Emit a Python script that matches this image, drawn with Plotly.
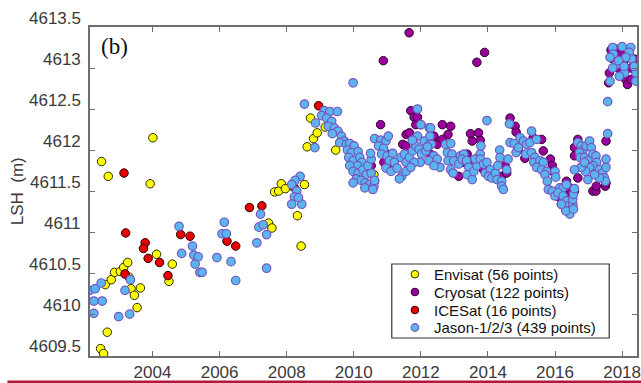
import plotly.graph_objects as go

# ---------------- data (decimal year, lake surface height in m) ----------------
envisat_year = [2002.45, 2002.54, 2002.65, 2002.59, 2002.77, 2002.87, 2003.04, 2003.14, 2003.26, 2003.36,
                2003.46, 2003.64, 2003.54, 2004.12, 2004.59, 2004.49, 2004.01, 2002.48, 2002.68, 2003.93,
                2007.46, 2007.56, 2007.64, 2007.76, 2007.84, 2007.96, 2008.32, 2008.43, 2008.53, 2008.61,
                2008.71, 2008.80, 2008.91, 2009.46, 2010.34, 2009.15, 2009.60, 2010.45, 2010.60, 2003.30]
envisat_lsh = [4609.58, 4609.52, 4609.78, 4610.36, 4610.42, 4610.51, 4610.52, 4610.57, 4610.63, 4610.31,
               4610.23, 4610.32, 4610.08, 4610.73, 4610.61, 4610.40, 4612.15, 4611.86, 4611.68, 4611.59,
               4611.11, 4611.05, 4611.49, 4611.50, 4611.59, 4611.53, 4611.20, 4610.83, 4611.58, 4612.04,
               4612.39, 4612.14, 4612.21, 4612.00, 4611.75, 4612.28, 4612.10, 4611.62, 4611.70, 4610.45]

cryosat_year = [2010.80, 2010.88, 2011.65, 2013.67, 2013.90, 2011.70, 2011.80, 2011.56, 2011.46, 2011.66,
                2011.85, 2011.55, 2012.00, 2010.52, 2010.62, 2010.90, 2011.20, 2011.00, 2011.90, 2012.39,
                2012.49, 2012.29, 2012.64, 2012.89, 2012.81, 2012.64, 2013.13, 2013.08, 2013.28, 2013.38,
                2013.48, 2013.72, 2013.77, 2013.53, 2013.58, 2013.87, 2014.17, 2014.41, 2014.51, 2014.56,
                2014.66, 2014.81, 2014.84, 2015.35, 2015.60, 2015.65, 2015.86, 2015.92, 2015.94, 2016.14,
                2016.19, 2016.29, 2016.34, 2016.34, 2016.44, 2016.46, 2016.53, 2016.58, 2016.68, 2016.58,
                2016.68, 2016.58, 2017.13, 2017.22, 2017.23, 2017.50, 2017.52, 2017.52, 2017.67, 2017.82,
                2017.72, 2017.97, 2018.06, 2017.62, 2017.60, 2018.11, 2018.16, 2017.87, 2018.26, 2018.36,
                2018.26, 2015.10, 2014.90]
cryosat_lsh = [4612.31, 4613.09, 4613.43, 4613.07, 4613.19, 4612.48, 4612.40, 4612.19, 4612.07, 4612.21,
               4612.31, 4612.05, 4612.31, 4611.81, 4611.62, 4611.85, 4611.78, 4611.95, 4612.40, 4612.17,
               4612.07, 4611.95, 4612.31, 4612.29, 4612.19, 4612.13, 4611.68, 4611.89, 4611.85, 4611.95,
               4612.20, 4612.21, 4612.12, 4612.11, 4611.83, 4611.76, 4611.70, 4611.68, 4611.81, 4611.72,
               4612.39, 4612.29, 4612.22, 4612.15, 4612.13, 4611.99, 4611.89, 4611.81, 4611.74, 4611.42,
               4611.34, 4611.42, 4611.62, 4611.46, 4611.54, 4611.50, 4611.30, 4611.50, 4611.66, 4612.03,
               4612.13, 4611.93, 4611.50, 4611.50, 4611.56, 4611.56, 4612.11, 4611.60, 4613.22, 4613.23,
               4613.11, 4613.17, 4613.09, 4612.94, 4612.82, 4612.86, 4612.80, 4613.00, 4613.00, 4613.11,
               4612.86, 4611.90, 4612.00]

icesat_year = [2003.20, 2003.78, 2003.73, 2003.87, 2004.21, 2004.84, 2005.12, 2004.46, 2003.18, 2006.22,
               2006.48, 2006.89, 2007.26, 2003.15, 2008.23, 2008.95]
icesat_lsh = [4610.99, 4610.87, 4610.80, 4610.68, 4610.63, 4610.97, 4610.95, 4610.47, 4610.49, 4610.89,
              4610.83, 4611.30, 4611.32, 4611.72, 4611.54, 4612.54]

jason_year = [
    2002.13, 2002.29, 2002.47, 2002.25, 2002.50, 2002.25, 2002.99, 2003.32, 2003.18, 2003.34,
    2004.79, 2004.87, 2005.19, 2005.23, 2005.36, 2005.27, 2005.41, 2005.48, 2005.92, 2006.14,
    2006.07, 2006.20, 2006.34, 2006.48, 2007.11, 2007.22, 2007.17, 2007.30, 2007.40, 2007.40,
    2008.40, 2008.25, 2008.15, 2008.30, 2008.23, 2008.15, 2008.45, 2008.35, 2008.53, 2008.84,
    2008.86, 2009.98,
    2009.12, 2009.29, 2009.51, 2009.04, 2009.19, 2009.34, 2009.24, 2009.42, 2009.53, 2009.36,
    2009.63, 2009.71, 2009.58, 2009.78, 2009.88, 2010.01, 2009.81, 2009.93, 2010.13, 2009.85,
    2009.98, 2010.18, 2010.24, 2010.11, 2009.88, 2009.98, 2010.13, 2010.27, 2010.37, 2010.52,
    2010.08, 2010.22, 2010.34, 2010.47, 2010.60, 2010.62, 2009.98, 2010.42, 2010.52, 2010.50,
    2010.62, 2010.80, 2010.96, 2011.03, 2010.74, 2010.89, 2010.83, 2010.99, 2011.16, 2011.06,
    2011.21, 2010.96, 2011.11, 2011.29, 2011.41, 2011.51, 2011.56, 2011.43, 2011.56, 2011.36,
    2011.66, 2011.75, 2011.85, 2011.95, 2012.02, 2012.15, 2011.98, 2011.80, 2011.70, 2012.10,
    2012.25, 2011.90, 2011.75, 2012.00, 2012.25, 2011.90, 2010.33, 2010.57,
    2012.27, 2012.31, 2012.20, 2012.39, 2012.24, 2012.49, 2012.57, 2012.39, 2012.74, 2012.89,
    2012.79, 2012.93, 2012.81, 2012.98, 2012.89, 2012.96, 2013.13, 2013.18, 2013.28, 2013.23,
    2013.36, 2013.43, 2013.38, 2013.53, 2013.58, 2013.67, 2013.72, 2013.77, 2013.62, 2013.79,
    2013.77, 2013.87, 2013.97, 2013.92, 2014.07, 2014.02, 2014.12, 2014.22, 2014.29, 2014.35,
    2014.36, 2014.27, 2014.41, 2014.41, 2014.46, 2014.56, 2014.60, 2014.66, 2014.78, 2014.84,
    2014.96, 2014.91, 2015.06, 2015.15, 2015.25, 2015.30, 2015.45, 2015.13, 2015.30, 2015.40,
    2015.37, 2015.55, 2015.45, 2015.65, 2015.60, 2015.75, 2015.70, 2016.00, 2016.02, 2015.77,
    2015.80, 2015.92, 2016.00, 2016.14, 2016.24, 2016.09, 2016.34, 2016.24, 2016.34, 2016.39,
    2016.49, 2016.53, 2016.53, 2016.55, 2016.58, 2016.44, 2016.32, 2016.19, 2016.55, 2014.64,
    2013.97, 2012.29,
    2016.68, 2016.78, 2016.83, 2016.93, 2017.03, 2017.08, 2017.13, 2016.73, 2016.75, 2016.88,
    2016.98, 2017.22, 2017.24, 2017.13, 2017.03, 2016.91, 2016.78, 2016.58, 2016.88, 2017.32,
    2017.42, 2017.52, 2017.52, 2017.47, 2017.50, 2017.32, 2017.18, 2016.98, 2017.57, 2017.57,
    2017.72, 2018.00, 2018.26, 2017.74, 2017.64, 2018.21, 2018.29, 2017.82, 2017.72, 2018.07,
    2017.92, 2017.64, 2018.41, 2018.41, 2018.11, 2017.90, 2018.06, 2018.36]
jason_lsh = [
    4610.29, 4610.31, 4610.38, 4610.16, 4610.16, 4610.01, 4609.97, 4610.00, 4610.29, 4610.42,
    4611.07, 4610.74, 4610.83, 4610.72, 4610.70, 4610.61, 4610.51, 4610.51, 4610.69, 4611.12,
    4610.98, 4610.98, 4610.64, 4610.41, 4610.87, 4611.22, 4611.06, 4611.09, 4610.97, 4610.56,
    4611.68, 4611.63, 4611.58, 4611.50, 4611.43, 4611.34, 4611.34, 4611.42, 4612.56, 4612.03,
    4612.33, 4612.82,
    4612.48, 4612.47, 4612.47, 4612.42, 4612.39, 4612.35, 4612.29, 4612.27, 4612.23, 4612.20,
    4612.17, 4612.11, 4612.09, 4612.07, 4612.08, 4612.05, 4612.00, 4611.97, 4611.98, 4611.91,
    4611.87, 4611.91, 4611.85, 4611.81, 4611.81, 4611.74, 4611.72, 4611.76, 4611.70, 4611.72,
    4611.65, 4611.63, 4611.60, 4611.58, 4611.56, 4611.63, 4611.60, 4611.81, 4611.89, 4611.96,
    4612.14, 4612.12, 4612.11, 4612.17, 4612.05, 4612.02, 4611.95, 4611.93, 4611.96, 4611.87,
    4611.85, 4611.78, 4611.74, 4611.78, 4611.91, 4611.95, 4611.85, 4611.68, 4611.74, 4611.65,
    4611.91, 4611.99, 4612.05, 4612.01, 4611.95, 4611.99, 4611.85, 4611.85, 4611.79, 4612.11,
    4612.07, 4612.17, 4612.12, 4612.31, 4612.27, 4612.50, 4611.54, 4611.52,
    4612.17, 4612.07, 4612.04, 4611.93, 4611.87, 4611.89, 4611.79, 4611.81, 4612.07, 4612.08,
    4611.97, 4611.95, 4611.87, 4611.87, 4611.76, 4611.72, 4611.83, 4611.93, 4611.95, 4611.89,
    4611.87, 4611.79, 4611.70, 4611.64, 4611.74, 4611.81, 4611.91, 4611.95, 4611.89, 4612.05,
    4611.89, 4611.83, 4611.85, 4611.72, 4611.76, 4611.68, 4611.66, 4611.72, 4611.81, 4612.00,
    4611.91, 4611.64, 4611.62, 4611.56, 4611.52, 4611.76, 4611.89, 4612.09, 4612.08, 4611.97,
    4612.15, 4612.03, 4612.11, 4612.07, 4612.09, 4612.23, 4612.13, 4611.95, 4611.97, 4611.91,
    4611.85, 4611.87, 4611.79, 4611.85, 4611.76, 4611.74, 4611.70, 4611.74, 4611.67, 4611.62,
    4611.52, 4611.50, 4611.44, 4611.54, 4611.54, 4611.48, 4611.58, 4611.44, 4611.38, 4611.32,
    4611.28, 4611.34, 4611.40, 4611.46, 4611.53, 4611.22, 4611.26, 4611.34, 4611.28, 4612.32,
    4612.36, 4612.27,
    4612.09, 4612.05, 4612.00, 4612.05, 4612.11, 4612.03, 4611.95, 4611.97, 4611.91, 4611.91,
    4611.87, 4611.93, 4611.85, 4611.81, 4611.79, 4611.74, 4611.79, 4611.76, 4611.85, 4611.76,
    4611.72, 4611.89, 4611.79, 4611.66, 4611.62, 4611.66, 4611.70, 4611.64, 4612.20, 4612.59,
    4613.25, 4613.26, 4613.25, 4613.17, 4613.13, 4613.19, 4613.11, 4613.04, 4613.00, 4612.94,
    4612.90, 4612.84, 4612.94, 4612.84, 4613.13, 4613.09, 4613.02, 4613.02]

series_names = ["Envisat (56 points)", "Cryosat (122 points)", "ICESat (16 points)", "Jason-1/2/3 (439 points)"]
x_tick_vals = [2004, 2006, 2008, 2010, 2012, 2014, 2016, 2018]
x_tick_text = ["2004", "2006", "2008", "2010", "2012", "2014", "2016", "2018"]
y_tick_vals = [4609.5, 4610, 4610.5, 4611, 4611.5, 4612, 4612.5, 4613, 4613.5]
y_tick_text = ["4609.5", "4610", "4610.5", "4611", "4611.5", "4612", "4612.5", "4613", "4613.5"]

# ---------------- figure ----------------
fills = ["#ffff00", "#9c009c", "#e80000", "#5ab4ee"]
edges = ["#2b2b00", "#2e002e", "#2a0000", "#7656c0"]
edge_w = [1, 1, 1, 1.2]
xs = [envisat_year, cryosat_year, icesat_year, jason_year]
ys = [envisat_lsh, cryosat_lsh, icesat_lsh, jason_lsh]

fig = go.Figure()
for name, x, y, fc, ec, ew in zip(series_names, xs, ys, fills, edges, edge_w):
    fig.add_trace(go.Scatter(x=x, y=y, mode="markers", name=name, showlegend=False,
                             marker=dict(size=8.5, symbol="circle", color=fc,
                                         line=dict(color=ec, width=ew))))

tick_font = dict(family="Liberation Sans, Arial", size=17, color="#3a3a3a")
axis_common = dict(showline=True, linecolor="#6e6e6e", linewidth=1.5, mirror="ticks",
                   ticks="inside", ticklen=5, tickwidth=1.3, tickcolor="#6e6e6e",
                   showgrid=False, zeroline=False, tickfont=tick_font)

fig.update_layout(
    width=641, height=383,
    margin=dict(l=90, r=0, t=27, b=27),
    paper_bgcolor="white", plot_bgcolor="white",
    showlegend=False,
    xaxis=dict(range=[2002.136, 2018.444], tickvals=x_tick_vals, ticktext=x_tick_text,
               ticklabelstandoff=0, ticklabeloverflow="allow", **axis_common),
    yaxis=dict(range=[4609.49, 4613.5], tickvals=y_tick_vals, showticklabels=False, **axis_common),
)

# y tick labels sit slightly above their ticks in the original
for v, t in zip(y_tick_vals, y_tick_text):
    fig.add_annotation(text=t, xref="paper", yref="y", x=0, y=v, xanchor="right", yanchor="middle",
                       xshift=-7, yshift=8.5, showarrow=False, font=tick_font)

# legend box drawn as a framed panel (compact spacing like the original)
fig.add_shape(type="rect", xref="paper", yref="paper", x0=0.5517, x1=0.9492, y0=0.0547, y1=0.2796,
              line=dict(color="#333333", width=1.2), fillcolor="white", layer="above")
legend_rows_y = [0.2486, 0.1945, 0.1398, 0.0866]
for name, fc, ec, ew, yy in zip(series_names, fills, edges, edge_w, legend_rows_y):
    fig.add_shape(type="circle", xref="paper", yref="paper", xsizemode="pixel", ysizemode="pixel",
                  xanchor=0.594, yanchor=yy, x0=-3.8, x1=3.8, y0=-3.8, y1=3.8,
                  fillcolor=fc, line=dict(color=ec, width=ew), layer="above")
    fig.add_annotation(text=name, xref="paper", yref="paper", x=0.626, y=yy,
                       xanchor="left", yanchor="middle", showarrow=False,
                       font=dict(family="Liberation Sans, Arial", size=15, color="#111111"))

fig.add_annotation(text="(b)", xref="paper", yref="paper", x=0.016, y=0.94,
                   xanchor="left", yanchor="middle", showarrow=False,
                   font=dict(family="Liberation Serif, Times New Roman", size=23, color="#111111"))
fig.add_annotation(text="LSH\u00a0\u00a0(m)", xref="paper", yref="paper", x=-0.132, y=0.50,
                   xanchor="center", yanchor="middle", textangle=-90, showarrow=False,
                   font=dict(family="Liberation Sans, Arial", size=17, color="#3a3a3a"))
fig.add_shape(type="line", xref="paper", yref="paper", x0=-0.151, x1=1.01, y0=-0.0785, y1=-0.0785,
              line=dict(color="#b5163c", width=2.5))

fig.write_html("out.html", config={"displayModeBar": False},
               post_script="document.body.style.margin='0';document.body.style.overflow='hidden';")
